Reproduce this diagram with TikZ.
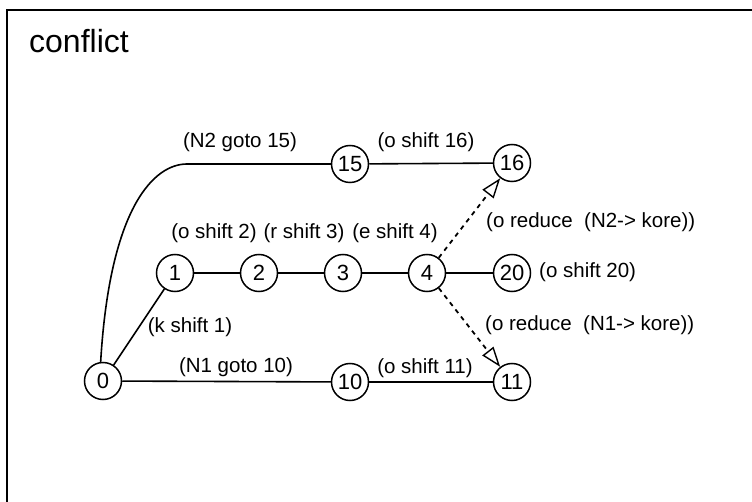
\documentclass[tikz,border=0pt]{standalone}
\usepackage{fontspec}
\setmainfont{Liberation Sans}
\usetikzlibrary{arrows.meta}
\begin{document}
\begin{tikzpicture}[x=1pt,y=-1pt,
 st/.style={circle,draw,line width=1.5pt,minimum size=37pt,inner sep=0pt,font=\fontsize{22}{22}\selectfont},
 lbl/.style={font=\fontsize{20.5}{21}\selectfont,inner sep=0pt},
 conn/.style={line width=1.6pt},
 reduceedge/.style={line width=1.8pt,dash pattern=on 4.5pt off 4.5pt,-{Triangle[open,length=20pt,width=14pt,line width=1.4pt]}}
]
\useasboundingbox (0,0) rectangle (752,502);
\draw[line width=1.6pt] (7,502) -- (7,10) -- (752,10);
\node[font=\fontsize{32}{32}\selectfont,anchor=west,inner sep=0pt] (title) at (29,41) {conflict};

\node[st] (n0) at (103,381) {0};
\node[st] (n1) at (175,273) {1};
\node[st] (n2) at (259,273) {2};
\node[st] (n3) at (343,273) {3};
\node[st] (n4) at (427,273) {4};
\node[st] (n20) at (512,273) {20};
\node[st] (n15) at (350,164) {15};
\node[st] (n16) at (512,163) {16};
\node[st] (n10) at (350,382) {10};
\node[st] (n11) at (512,382) {11};

\coordinate (bend) at (187,164);
\draw[conn] (n0.97) .. controls (110,205) and (155,164) .. (bend) -- (n15);
\draw[conn] (n15) -- (n16);
\draw[conn] (n0) -- (n1);
\draw[conn] (n1) -- (n2);
\draw[conn] (n2) -- (n3);
\draw[conn] (n3) -- (n4);
\draw[conn] (n4) -- (n20);
\draw[conn] (n0) -- (n10);
\draw[conn] (n10) -- (n11);
\draw[reduceedge] (n4) -- (n16);
\draw[reduceedge] (n4) -- (n11);

\node[lbl] (l15) at (240,142) {(N2 goto 15)};
\node[lbl] (l16) at (426,142) {(o shift 16)};
\node[lbl] (l2) at (214,233) {(o shift 2)};
\node[lbl] (l3) at (304,233) {(r shift 3)};
\node[lbl] (l4) at (395,233) {(e shift 4)};
\node[lbl,anchor=west] (lr2) at (486,222) {(o reduce\ \ (N2-> kore))};
\node[lbl,anchor=west] (l20) at (539,272) {(o shift 20)};
\node[lbl] (l1) at (190,327) {(k shift 1)};
\node[lbl,anchor=west] (lr1) at (485,325) {(o reduce\ \ (N1-> kore))};
\node[lbl] (l10) at (236,367) {(N1 goto 10)};
\node[lbl] (l11) at (425,368) {(o shift 11)};
\end{tikzpicture}
\end{document}
